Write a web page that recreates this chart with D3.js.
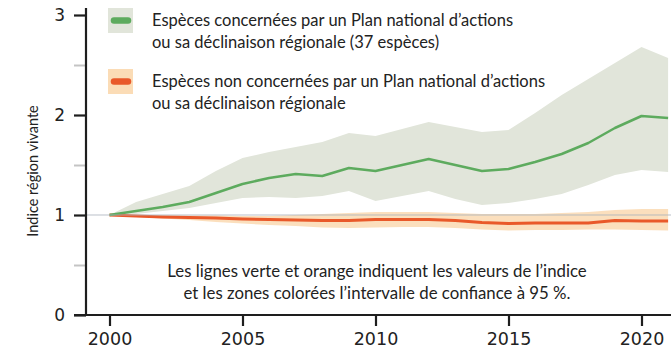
<!DOCTYPE html>
<html lang="fr">
<head>
<meta charset="utf-8">
<script src="https://cdn.jsdelivr.net/npm/d3@7"></script>
<style>
  html, body { margin: 0; padding: 0; background: #fff; }
  svg { display: block; font-family: "Lato", "Open Sans", sans-serif; }
</style>
</head>
<body>
<svg id="chart" width="671" height="351"></svg>
<script>
// Indice région vivante, base 1 en 2000
const years = [2000, 2001, 2002, 2003, 2004, 2005, 2006, 2007, 2008, 2009, 2010,
               2011, 2012, 2013, 2014, 2015, 2016, 2017, 2018, 2019, 2020, 2021];

// Espèces concernées par un PNA : indice et intervalle de confiance à 95 %
const pnaIndex = [1.00, 1.04, 1.08, 1.13, 1.22, 1.31, 1.37, 1.41, 1.39, 1.47, 1.44,
                  1.50, 1.56, 1.50, 1.44, 1.46, 1.53, 1.61, 1.72, 1.87, 1.99, 1.97];
const pnaUpper = [1.00, 1.13, 1.21, 1.29, 1.44, 1.57, 1.63, 1.68, 1.73, 1.82, 1.79,
                  1.86, 1.93, 1.88, 1.83, 1.85, 2.02, 2.20, 2.36, 2.52, 2.68, 2.57];
const pnaLower = [1.00, 1.01, 1.04, 1.07, 1.12, 1.17, 1.18, 1.17, 1.19, 1.24, 1.14,
                  1.19, 1.24, 1.16, 1.10, 1.12, 1.16, 1.21, 1.30, 1.40, 1.45, 1.43];

// Espèces non concernées
const otherIndex = [1.00, 0.99, 0.98, 0.975, 0.97, 0.96, 0.955, 0.95, 0.945, 0.945, 0.955,
                    0.955, 0.955, 0.945, 0.925, 0.915, 0.92, 0.92, 0.92, 0.945, 0.94, 0.94];
const otherUpper = [1.00, 0.995, 1.00, 0.995, 0.995, 0.99, 0.99, 1.00, 1.01, 1.02, 1.03,
                    1.03, 1.03, 1.02, 1.01, 1.01, 1.01, 1.02, 1.03, 1.05, 1.06, 1.06];
const otherLower = [1.00, 0.98, 0.965, 0.95, 0.93, 0.915, 0.90, 0.89, 0.875, 0.87, 0.875,
                    0.88, 0.88, 0.87, 0.855, 0.845, 0.85, 0.85, 0.855, 0.855, 0.85, 0.845];

const yearTicks = [2000, 2005, 2010, 2015, 2020];
const yMajorTicks = [0, 1, 2, 3];
const yMinorTicks = [0.5, 1.5, 2.5];

const legendLabels = [
  ["Espèces concernées par un Plan national d\u2019actions", "ou sa déclinaison régionale (37 espèces)"],
  ["Espèces non concernées par un Plan national d\u2019actions", "ou sa déclinaison régionale"]
];
const noteLines = [
  "Les lignes verte et orange indiquent les valeurs de l\u2019indice",
  "et les zones colorées l\u2019intervalle de confiance à 95 %."
];
const yTitle = "Indice région vivante";

const colors = {
  pnaLine: "#5dab5e", pnaBand: "#e1e5da",
  otherLine: "#e9592a", otherBand: "#fbdcb6",
  axis: "#1e1e1e", minor: "#c4c4c4", ref: "#a9b0bb", text: "#222"
};

const svg = d3.select("#chart");
const W = 671, H = 351;
const axisX = 86, axisY = 315;

const x = d3.scaleLinear().domain([2000, 2020]).range([109.5, 641.5]);
const y = d3.scaleLinear().domain([0, 3]).range([axisY, 15]);

const pna = years.map((yr, i) => ({ yr, v: pnaIndex[i], lo: pnaLower[i], hi: pnaUpper[i] }));
const other = years.map((yr, i) => ({ yr, v: otherIndex[i], lo: otherLower[i], hi: otherUpper[i] }));

const area = d3.area().x(d => x(d.yr)).y0(d => y(d.lo)).y1(d => y(d.hi));
const line = d3.line().x(d => x(d.yr)).y(d => y(d.v));

const plot = svg.append("g");
svg.append("clipPath").attr("id", "clip")
  .append("rect").attr("x", axisX).attr("y", 0).attr("width", W - axisX).attr("height", axisY);
plot.attr("clip-path", "url(#clip)");

// bands
plot.append("path").datum(pna).attr("d", area).attr("fill", colors.pnaBand);
plot.append("path").datum(other).attr("d", area).attr("fill", colors.otherBand).attr("fill-opacity", 0.9);

// reference line at 1
svg.append("line")
  .attr("x1", axisX).attr("x2", W)
  .attr("y1", y(1)).attr("y2", y(1))
  .attr("stroke", colors.ref).attr("stroke-width", 1).attr("stroke-opacity", 0.8);

// index lines
plot.append("path").datum(other).attr("d", line)
  .attr("fill", "none").attr("stroke", colors.otherLine).attr("stroke-width", 3)
  .attr("stroke-linejoin", "round");
plot.append("path").datum(pna).attr("d", line)
  .attr("fill", "none").attr("stroke", colors.pnaLine).attr("stroke-width", 2.5)
  .attr("stroke-linejoin", "round");

// y axis
const minor = svg.append("g").attr("transform", `translate(${axisX},0)`)
  .call(d3.axisLeft(y).tickValues(yMinorTicks).tickSize(12).tickFormat(""));
minor.select(".domain").remove();
minor.selectAll(".tick line").attr("stroke", colors.minor).attr("stroke-width", 2);

const yAxis = svg.append("g").attr("transform", `translate(${axisX},0)`)
  .call(d3.axisLeft(y).tickValues(yMajorTicks).tickSize(12).tickPadding(9).tickFormat(d3.format("d")));
yAxis.select(".domain").remove();
yAxis.selectAll(".tick line").attr("stroke", colors.axis).attr("stroke-width", 2.2);
yAxis.selectAll(".tick text")
  .attr("fill", colors.text).style("font-family", "'DejaVu Sans', sans-serif").style("font-size", "17px");

svg.append("line")
  .attr("x1", axisX).attr("x2", axisX).attr("y1", 8).attr("y2", axisY + 1)
  .attr("stroke", colors.axis).attr("stroke-width", 2.2);

// x axis
const xAxis = svg.append("g").attr("transform", `translate(0,${axisY})`)
  .call(d3.axisBottom(x).tickValues(yearTicks).tickSize(11).tickPadding(7).tickFormat(d3.format("d")));
xAxis.select(".domain").remove();
xAxis.selectAll(".tick line").attr("stroke", colors.axis).attr("stroke-width", 2.2);
xAxis.selectAll(".tick text")
  .attr("fill", colors.text).style("font-family", "'DejaVu Sans', sans-serif").style("font-size", "17.5px");

svg.append("line")
  .attr("x1", 74).attr("x2", W).attr("y1", axisY).attr("y2", axisY)
  .attr("stroke", colors.axis).attr("stroke-width", 2.2);

// y title
svg.append("text")
  .attr("transform", `translate(38,171) rotate(-90)`)
  .attr("text-anchor", "middle")
  .attr("fill", colors.text)
  .style("font-size", "14.5px")
  .text(yTitle);

// legend
const legendRows = [
  { band: colors.pnaBand, line: colors.pnaLine, top: 8, labels: legendLabels[0], base: 26 },
  { band: colors.otherBand, line: colors.otherLine, top: 69, labels: legendLabels[1], base: 87 }
];
const legend = svg.append("g");
legendRows.forEach(r => {
  legend.append("rect").attr("x", 108).attr("y", r.top).attr("width", 25).attr("height", 25)
    .attr("fill", r.band);
  legend.append("line").attr("x1", 114).attr("x2", 128)
    .attr("y1", r.top + 12.5).attr("y2", r.top + 12.5)
    .attr("stroke", r.line).attr("stroke-width", 6.5).attr("stroke-linecap", "round");
  r.labels.forEach((t, i) => {
    legend.append("text").attr("x", 152).attr("y", r.base + i * 22)
      .attr("fill", colors.text).style("font-size", "16.5px").text(t);
  });
});

// note
noteLines.forEach((t, i) => {
  svg.append("text").attr("x", 377).attr("y", 277 + i * 22)
    .attr("text-anchor", "middle").attr("fill", colors.text)
    .style("font-size", "16.8px").text(t);
});
</script>
</body>
</html>
